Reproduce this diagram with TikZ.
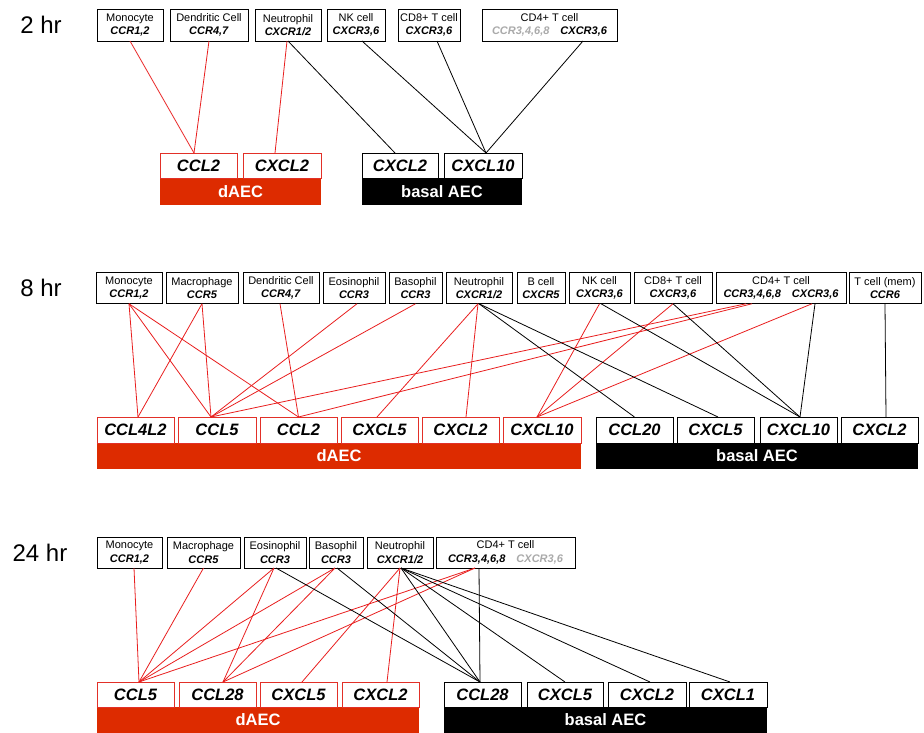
\documentclass[tikz,border=0pt]{standalone}
\usepackage{fontspec}
\setmainfont{Liberation Sans}
\definecolor{lred}{RGB}{232,30,30}
\definecolor{barred}{RGB}{221,43,0}
\definecolor{boxred}{RGB}{226,48,40}
\definecolor{gtext}{RGB}{170,170,170}
\newcommand{\recp}[1]{\textbf{\textit{#1}}}
\begin{document}
\begin{tikzpicture}[x=1pt,y=-1pt,
 wh/.style 2 args={minimum width=#1pt,minimum height=#2pt},
 cell/.style={draw=black,line width=1pt,fill=white,inner sep=0pt,outer sep=0pt,align=center,font=\fontsize{11}{13.4}\selectfont},
 chemred/.style={draw=boxred,line width=1pt,fill=white,inner sep=0pt,outer sep=0pt,font=\fontsize{16.5}{18}\selectfont\bfseries\itshape},
 chemblk/.style={chemred,draw=black},
 redbar/.style={fill=barred,inner sep=0pt,outer sep=0pt,text=white,font=\fontsize{16.5}{18}\selectfont\bfseries},
 blkbar/.style={redbar,fill=black},
 rl/.style={draw=lred,line width=0.8pt},
 bl/.style={draw=black,line width=0.8pt},
 hrlabel/.style={inner sep=0pt,font=\fontsize{24}{28}\selectfont}
]
\useasboundingbox (0,0) rectangle (924,732);

% ================= 2 hr =================
\node[hrlabel] (t2) at (41,25) {2 hr};
\node[cell,wh={66}{32}] (mono2) at (130,25) {Monocyte\\\recp{CCR1,2}};
\node[cell,wh={78}{32}] (dc2) at (209,25) {Dendritic Cell\\\recp{CCR4,7}};
\node[cell,wh={66}{32}] (neu2) at (288,25) {Neutrophil\\\recp{CXCR1/2}};
\node[cell,wh={58}{32}] (nk2) at (356,25) {NK cell\\\recp{CXCR3,6}};
\node[cell,wh={62}{32}] (cd82) at (429,25) {CD8+ T cell\\\recp{CXCR3,6}};
\node[cell,wh={135}{32}] (cd42) at (549.5,25) {CD4+ T cell\\{\color{gtext}\recp{CCR3,4,6,8}}\hspace{11pt}\recp{CXCR3,6}};

\node[redbar,wh={161}{27}] (bara2) at (240.5,191.5) {dAEC};
\node[blkbar,wh={160}{27}] (barb2) at (442,191.5) {basal AEC};
\node[chemred,wh={77}{25}] (ccl2a2) at (198.5,165.5) {CCL2};
\node[chemred,wh={78}{25}] (cxcl2a2) at (282,165.5) {CXCL2};
\node[chemblk,wh={76}{25}] (cxcl2b2) at (400,165.5) {CXCL2};
\node[chemblk,wh={78}{25}] (cxcl10b2) at (483,165.5) {CXCL10};

\draw[rl] (mono2.south) -- ([xshift=-4.5pt]ccl2a2.north);
\draw[rl] (dc2.south) -- ([xshift=-4.5pt]ccl2a2.north);
\draw[rl] ([xshift=-1pt]neu2.south) -- ([xshift=-7pt]cxcl2a2.north);
\draw[bl] (neu2.south) -- ([xshift=-5pt]cxcl2b2.north);
\draw[bl] ([xshift=6pt]nk2.south) -- ([xshift=3pt]cxcl10b2.north);
\draw[bl] ([xshift=8pt]cd82.south) -- ([xshift=3pt]cxcl10b2.north);
\draw[bl] ([xshift=33.5pt]cd42.south) -- ([xshift=3pt]cxcl10b2.north);

% ================= 8 hr =================
\node[hrlabel] (t8) at (41,288) {8 hr};
\node[cell,wh={66}{31.5}] (mono8) at (129,288) {Monocyte\\\recp{CCR1,2}};
\node[cell,wh={72}{31.5}] (mac8) at (202,288) {Macrophage\\\recp{CCR5}};
\node[cell,wh={76}{31.5}] (dc8) at (281,288) {Dendritic Cell\\\recp{CCR4,7}};
\node[cell,wh={62}{31.5}] (eos8) at (354,288) {Eosinophil\\\recp{CCR3}};
\node[cell,wh={53}{31.5}] (bas8) at (415.5,288) {Basophil\\\recp{CCR3}};
\node[cell,wh={66}{31.5}] (neu8) at (479,288) {Neutrophil\\\recp{CXCR1/2}};
\node[cell,wh={48}{31.5}] (bc8) at (541,288) {B cell\\\recp{CXCR5}};
\node[cell,wh={61}{31.5}] (nk8) at (599.5,288) {NK cell\\\recp{CXCR3,6}};
\node[cell,wh={78}{31.5}] (cd88) at (673,288) {CD8+ T cell\\\recp{CXCR3,6}};
\node[cell,wh={130}{31.5}] (cd48) at (781,288) {CD4+ T cell\\\recp{CCR3,4,6,8}\hspace{11pt}\recp{CXCR3,6}};
\node[cell,wh={72}{31.5}] (tm8) at (885,288) {T cell (mem)\\\recp{CCR6}};

\node[redbar,wh={484}{26}] (bara8) at (339,456) {dAEC};
\node[blkbar,wh={322}{26}] (barb8) at (757,456) {basal AEC};
\node[chemred,wh={77}{26}] (ccl4l2a8) at (135.5,430) {CCL4L2};
\node[chemred,wh={78}{26}] (ccl5a8) at (217,430) {CCL5};
\node[chemred,wh={77}{26}] (ccl2a8) at (298.5,430) {CCL2};
\node[chemred,wh={77}{26}] (cxcl5a8) at (379.5,430) {CXCL5};
\node[chemred,wh={77}{26}] (cxcl2a8) at (460.5,430) {CXCL2};
\node[chemred,wh={78}{26}] (cxcl10a8) at (542,430) {CXCL10};
\node[chemblk,wh={77}{26}] (ccl20b8) at (634.5,430) {CCL20};
\node[chemblk,wh={77}{26}] (cxcl5b8) at (715.5,430) {CXCL5};
\node[chemblk,wh={77}{26}] (cxcl10b8) at (798.5,430) {CXCL10};
\node[chemblk,wh={77}{26}] (cxcl2b8) at (879.5,430) {CXCL2};

\draw[rl] (mono8.south) -- ([xshift=2.5pt]ccl4l2a8.north);
\draw[rl] (mono8.south) -- ([xshift=-6pt]ccl5a8.north);
\draw[rl] (mono8.south) -- (ccl2a8.north);
\draw[rl] (mac8.south) -- ([xshift=2.5pt]ccl4l2a8.north);
\draw[rl] (mac8.south) -- ([xshift=-6pt]ccl5a8.north);
\draw[rl] ([xshift=-1pt]dc8.south) -- (ccl2a8.north);
\draw[rl] ([xshift=3pt]eos8.south) -- ([xshift=-6pt]ccl5a8.north);
\draw[rl] (bas8.south) -- ([xshift=-6pt]ccl5a8.north);
\draw[rl] ([xshift=-1pt]neu8.south) -- ([xshift=-2.5pt]cxcl5a8.north);
\draw[rl] ([xshift=-1pt]neu8.south) -- ([xshift=5.5pt]cxcl2a8.north);
\draw[rl] ([xshift=-35pt]cd48.south) -- ([xshift=-6pt]ccl5a8.north);
\draw[rl] ([xshift=-29pt]cd48.south) -- (ccl2a8.north);
\draw[rl] (nk8.south) -- ([xshift=-5pt]cxcl10a8.north);
\draw[rl] (cd88.south) -- ([xshift=-5pt]cxcl10a8.north);
\draw[rl] ([xshift=31pt]cd48.south) -- ([xshift=-5pt]cxcl10a8.north);
\draw[bl] (neu8.south) -- (ccl20b8.north);
\draw[bl] (neu8.south) -- ([xshift=2.5pt]cxcl5b8.north);
\draw[bl] ([xshift=1.5pt]nk8.south) -- ([xshift=1.5pt]cxcl10b8.north);
\draw[bl] (cd88.south) -- ([xshift=1.5pt]cxcl10b8.north);
\draw[bl] ([xshift=34pt]cd48.south) -- ([xshift=1.5pt]cxcl10b8.north);
\draw[bl] (tm8.south) -- ([xshift=6.5pt]cxcl2b8.north);

% ================= 24 hr =================
\node[hrlabel] (t24) at (40,553) {24 hr};
\node[cell,wh={65}{31}] (mono24) at (129.5,552.5) {Monocyte\\\recp{CCR1,2}};
\node[cell,wh={73}{31}] (mac24) at (203.5,552.5) {Macrophage\\\recp{CCR5}};
\node[cell,wh={62}{31}] (eos24) at (275,552.5) {Eosinophil\\\recp{CCR3}};
\node[cell,wh={54}{31}] (bas24) at (336,552.5) {Basophil\\\recp{CCR3}};
\node[cell,wh={66}{31}] (neu24) at (400,552.5) {Neutrophil\\\recp{CXCR1/2}};
\node[cell,wh={139}{31}] (cd424) at (505.5,552.5) {CD4+ T cell\\\recp{CCR3,4,6,8}\hspace{11pt}{\color{gtext}\recp{CXCR3,6}}};

\node[redbar,wh={322}{25.5}] (bara24) at (258,719.75) {dAEC};
\node[blkbar,wh={323}{25.5}] (barb24) at (605.5,719.75) {basal AEC};
\node[chemred,wh={77}{25}] (ccl5a24) at (135.5,694.5) {CCL5};
\node[chemred,wh={77}{25}] (ccl28a24) at (217.5,694.5) {CCL28};
\node[chemred,wh={77}{25}] (cxcl5a24) at (298.5,694.5) {CXCL5};
\node[chemred,wh={77}{25}] (cxcl2a24) at (380.5,694.5) {CXCL2};
\node[chemblk,wh={77}{25}] (ccl28b24) at (482.5,694.5) {CCL28};
\node[chemblk,wh={76}{25}] (cxcl5b24) at (565,694.5) {CXCL5};
\node[chemblk,wh={78}{25}] (cxcl2b24) at (647,694.5) {CXCL2};
\node[chemblk,wh={78}{25}] (cxcl1b24) at (728,694.5) {CXCL1};

\draw[rl] ([xshift=4.5pt]mono24.south) -- ([xshift=3.5pt]ccl5a24.north);
\draw[rl] (mac24.south) -- ([xshift=3.5pt]ccl5a24.north);
\draw[rl] ([xshift=-1pt]eos24.south) -- ([xshift=3.5pt]ccl5a24.north);
\draw[rl] ([xshift=-1pt]eos24.south) -- ([xshift=5.5pt]ccl28a24.north);
\draw[rl] ([xshift=-1pt]bas24.south) -- ([xshift=3.5pt]ccl5a24.north);
\draw[rl] ([xshift=-1pt]bas24.south) -- ([xshift=5.5pt]ccl28a24.north);
\draw[rl] (neu24.south) -- ([xshift=3.5pt]cxcl5a24.north);
\draw[rl] (neu24.south) -- ([xshift=6.5pt]cxcl2a24.north);
\draw[rl] ([xshift=-30.5pt]cd424.south) -- ([xshift=3.5pt]ccl5a24.north);
\draw[rl] ([xshift=-30.5pt]cd424.south) -- ([xshift=5.5pt]ccl28a24.north);
\draw[bl] ([xshift=1pt]eos24.south) -- ([xshift=-2.5pt]ccl28b24.north);
\draw[bl] ([xshift=1pt]bas24.south) -- ([xshift=-2.5pt]ccl28b24.north);
\draw[bl] ([xshift=1pt]neu24.south) -- ([xshift=-2.5pt]ccl28b24.north);
\draw[bl] ([xshift=1pt]neu24.south) -- (cxcl5b24.north);
\draw[bl] ([xshift=1pt]neu24.south) -- ([xshift=3pt]cxcl2b24.north);
\draw[bl] ([xshift=1pt]neu24.south) -- ([xshift=2pt]cxcl1b24.north);
\draw[bl] ([xshift=-26.5pt]cd424.south) -- ([xshift=-2.5pt]ccl28b24.north);
\end{tikzpicture}
\end{document}
